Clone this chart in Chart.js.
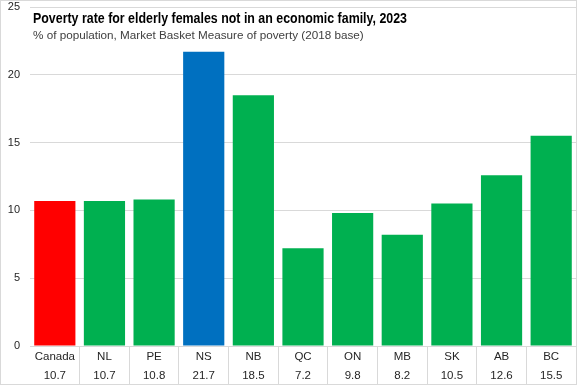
<!DOCTYPE html>
<html>
<head>
<meta charset="utf-8">
<script src="https://cdn.jsdelivr.net/npm/chart.js@4"></script>
<style>
  html, body { margin: 0; padding: 0; background: #fff; }
  #wrap { width: 575px; height: 383px; border: 1px solid #d9d9d9; }
</style>
</head>
<body>
<div id="wrap"><canvas id="chart" width="575" height="383"></canvas></div>
<script>
const chartTitle = 'Poverty rate for elderly females not in an economic family, 2023';
const chartSubtitle = '% of population, Market Basket Measure of poverty (2018 base)';
const regions = ['Canada', 'NL', 'PE', 'NS', 'NB', 'QC', 'ON', 'MB', 'SK', 'AB', 'BC'];
const rates = [10.7, 10.7, 10.8, 21.7, 18.5, 7.2, 9.8, 8.2, 10.5, 12.6, 15.5];
const yTicks = [0, 5, 10, 15, 20, 25];

// Canada in red, Nova Scotia highlighted in blue, rest green
function barColor(region) {
    if (region === 'Canada') return '#ff0000';
    if (region === 'NS') return '#0070c0';
    return '#00b050';
}

const gridGrey = '#d9d9d9';
const textColor = '#262626';
const tickFont = { family: 'Liberation Sans', size: 11.5, lineHeight: 1.6 };

// title sits inside the plot area like the original, so draw it by hand
const titlePlugin = {
    id: 'overlayTitle',
    afterDraw(chart) {
        const c = chart.ctx;
        c.save();
        c.fillStyle = '#000';
        c.textBaseline = 'alphabetic';
        c.font = 'bold 15.5px "Liberation Sans", sans-serif';
        const w = c.measureText(chartTitle).width;
        c.translate(32, 22);
        c.scale(374 / w, 1);
        c.fillText(chartTitle, 0, 0);
        c.restore();
        c.save();
        c.fillStyle = '#404040';
        c.font = '11.7px "Liberation Sans", sans-serif';
        c.fillText(chartSubtitle, 32, 37.5);
        c.restore();
    }
};

new Chart(document.getElementById('chart'), {
    type: 'bar',
    data: {
        labels: regions.map((r, i) => [r, rates[i].toFixed(1)]),
        datasets: [{
            data: rates,
            backgroundColor: regions.map(barColor),
            barPercentage: 0.83,
            categoryPercentage: 1
        }]
    },
    options: {
        responsive: false,
        animation: false,
        layout: { padding: { top: 6, right: 0, left: 0, bottom: 0 } },
        plugins: {
            legend: { display: false },
            tooltip: { enabled: false }
        },
        scales: {
            y: {
                min: 0,
                max: 25,
                afterFit(scale) { scale.width = 29; scale.paddingTop = 0; scale.paddingBottom = 0; },
                afterBuildTicks(scale) { scale.ticks = yTicks.map(v => ({ value: v })); },
                border: { display: false },
                grid: { color: gridGrey, drawTicks: false },
                ticks: { color: textColor, font: { family: 'Liberation Sans', size: 11 }, padding: 10 }
            },
            x: {
                afterFit(scale) { scale.height = 38; },
                border: { display: false },
                grid: {
                    offset: true,
                    drawOnChartArea: false,
                    drawTicks: true,
                    tickLength: 38,
                    color: ctx => ctx.index === 0 ? 'rgba(0,0,0,0)' : gridGrey
                },
                ticks: { color: textColor, font: tickFont, padding: -36, maxRotation: 0, autoSkip: false }
            }
        }
    },
    plugins: [titlePlugin]
});
</script>
</body>
</html>
